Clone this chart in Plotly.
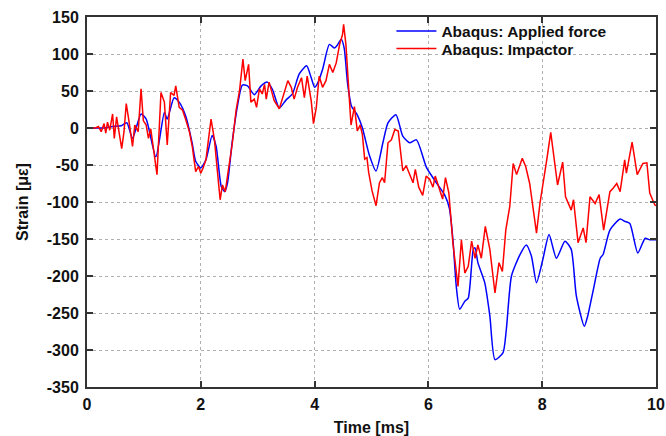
import plotly.graph_objects as go

# Applied force (blue, smooth)
t_force = [0, 0.3, 0.45, 0.6, 0.7, 0.8, 0.95, 1.04, 1.21, 1.36, 1.41, 1.53, 1.62, 1.74, 1.85, 1.91,
           2.0, 2.09, 2.2, 2.27, 2.36, 2.42, 2.47, 2.55, 2.64, 2.73, 2.82, 2.94, 3.06, 3.17, 3.26, 3.38,
           3.5, 3.61, 3.73, 3.86, 3.94, 4.0, 4.05, 4.14, 4.26, 4.35, 4.4, 4.47, 4.52, 4.58, 4.65, 4.74,
           4.84, 4.96, 5.08, 5.2, 5.29, 5.43, 5.55, 5.67, 5.79, 5.97, 6.14, 6.29, 6.37, 6.43, 6.49, 6.55,
           6.64, 6.7, 6.79, 6.82, 6.87, 6.99, 7.08, 7.17, 7.31, 7.37, 7.46, 7.61, 7.72, 7.81, 7.9, 8.01,
           8.12, 8.25, 8.4, 8.51, 8.6, 8.74, 8.8, 8.9, 9.02, 9.07, 9.19, 9.37, 9.45, 9.54, 9.68, 9.81,
           9.89, 10.0]
s_force = [0, 0, 2, 3, 7, -14, 19, 12, -39, 21, 12, 41, 35, 15, -21, -45,
           -54, -43, -10, -25, -79, -86, -74, -20, 28, 58, 57, 45, 57, 62, 52, 27,
           38, 46, 73, 84, 68, 55, 60, 79, 113, 108, 112, 120, 108, 60, 29, 19,
           0, -36, -58, -20, 7, 18, -11, -20, -16, -54, -74, -91, -109, -150, -214, -245,
           -234, -230, -164, -162, -182, -209, -254, -313, -304, -272, -200, -171, -158, -173, -209, -178,
           -144, -176, -153, -164, -227, -268, -254, -218, -176, -171, -138, -123, -126, -129, -169, -149,
           -151, -151]

# Impactor (red, noisy)
t_imp = [0, 0.15, 0.2, 0.25, 0.3, 0.33, 0.36, 0.4, 0.45, 0.48, 0.52, 0.56, 0.61, 0.65, 0.69, 0.74,
         0.8, 0.84, 0.9, 0.95, 0.99, 1.04, 1.08, 1.12, 1.18, 1.23, 1.3, 1.36, 1.41, 1.47, 1.53, 1.56,
         1.62, 1.68, 1.74, 1.8, 1.85, 1.91, 1.96, 2.0, 2.04, 2.09, 2.18, 2.24, 2.29, 2.34, 2.38, 2.43,
         2.49, 2.55, 2.62, 2.68, 2.74, 2.78, 2.84, 2.88, 2.94, 2.98, 3.03, 3.08, 3.12, 3.15, 3.2, 3.29,
         3.38, 3.47, 3.53, 3.59, 3.64, 3.7, 3.77, 3.82, 3.87, 3.94, 3.98, 4.03, 4.08, 4.14, 4.2, 4.26,
         4.32, 4.38, 4.44, 4.49, 4.51, 4.55, 4.61, 4.64, 4.7, 4.75, 4.8, 4.84, 4.88, 4.92, 4.95, 5.01,
         5.08, 5.14, 5.19, 5.23, 5.29, 5.35, 5.41, 5.47, 5.52, 5.55, 5.61, 5.67, 5.73, 5.77, 5.83, 5.9,
         5.96, 6.02, 6.08, 6.12, 6.2, 6.25, 6.3, 6.36, 6.43, 6.52, 6.58, 6.64, 6.7, 6.76, 6.82, 6.87,
         6.93, 7.0, 7.08, 7.17, 7.24, 7.3, 7.36, 7.43, 7.49, 7.55, 7.65, 7.71, 7.78, 7.9, 7.96, 8.01,
         8.08, 8.15, 8.27, 8.36, 8.41, 8.51, 8.55, 8.63, 8.72, 8.77, 8.84, 8.93, 9.0, 9.08, 9.19, 9.25,
         9.31, 9.37, 9.45, 9.48, 9.58, 9.67, 9.77, 9.84, 9.89, 9.98, 10.0]
s_imp = [0, 0, 2, -5, 6, -7, 8, -3, 19, -14, 15, -5, -28, -5, 33, 8,
         -25, 4, -5, 53, 10, 4, -14, -1, -37, -63, 48, 35, -23, 48, 44, 57,
         28, 24, 10, -5, -25, -59, -52, -61, -54, -43, 12, -16, -57, -97, -77, -86,
         -54, -23, 24, 50, 93, 64, 86, 35, 39, 28, 53, 46, 59, 39, 62, 37,
         26, 50, 64, 55, 39, 55, 68, 41, 70, 37, 6, 28, 70, 55, 64, 86,
         75, 88, 113, 126, 140, 113, 41, 4, 29, -4, 4, -9, -42, -40, -60, -85,
         -105, -74, -67, -74, -20, -16, -2, -4, -38, -58, -51, -62, -74, -56, -80, -91,
         -65, -69, -80, -65, -83, -96, -67, -88, -155, -214, -151, -196, -187, -153, -176, -158,
         -176, -133, -164, -223, -182, -194, -138, -106, -48, -63, -41, -52, -75, -142, -102, -79,
         -43, -6, -77, -46, -93, -111, -97, -155, -135, -155, -93, -102, -90, -138, -86, -81,
         -75, -86, -43, -61, -19, -63, -48, -47, -88, -104, -105]

x_ticks = [0, 2, 4, 6, 8, 10]
y_ticks = [150, 100, 50, 0, -50, -100, -150, -200, -250, -300, -350]

FONT = "Liberation Sans"
TXT = "#111111"

fig = go.Figure()
fig.add_trace(go.Scatter(x=t_force, y=s_force, mode="lines", name="Abaqus: Applied force",
                         line=dict(color="#0000ff", width=1.5, shape="spline", smoothing=0.6),
                         legend="legend"))
fig.add_trace(go.Scatter(x=t_imp, y=s_imp, mode="lines", name="Abaqus: Impactor",
                         line=dict(color="#ff0000", width=1.5), legend="legend2"))

axis_common = dict(
    showline=True, linecolor="#333333", linewidth=2, mirror="allticks",
    ticks="inside", ticklen=6, tickcolor="#333333", tickwidth=1.5,
    showgrid=True, gridcolor="#b0b0b0", griddash="dot", gridwidth=1,
    zeroline=False, automargin=False,
    tickfont=dict(family=FONT, size=16, color=TXT, weight="bold"),
)

legend_common = dict(xanchor="left", yanchor="middle", bgcolor="rgba(0,0,0,0)", borderwidth=0,
                     font=dict(family=FONT, size=15.5, color=TXT, weight="bold"),
                     itemwidth=40)

fig.update_layout(
    width=666, height=436,
    margin=dict(l=87, r=10, t=17, b=49),
    paper_bgcolor="white", plot_bgcolor="white",
    showlegend=True,
    legend=dict(x=0.535, y=0.961, **legend_common),
    legend2=dict(x=0.535, y=0.9135, **legend_common),
    shapes=[dict(type="rect", xref="paper", yref="paper", x0=0.503, x1=0.998, y0=0.878, y1=0.997,
                 fillcolor="white", line=dict(width=0), layer="between")],
)
fig.update_xaxes(range=[0, 10], tickvals=x_ticks, ticktext=[str(v) for v in x_ticks],
                 ticklabelstandoff=2,
                 title=dict(text="Time [ms]", font=dict(family=FONT, size=16, color=TXT, weight="bold"),
                            standoff=10),
                 **axis_common)
fig.update_yaxes(range=[-350, 150], tickvals=y_ticks, ticktext=[str(v) for v in y_ticks],
                 ticklabelstandoff=3,
                 title=dict(text="Strain [με]", font=dict(family=FONT, size=16, color=TXT, weight="bold"),
                            standoff=14),
                 **axis_common)

fig.write_html("out.html")
